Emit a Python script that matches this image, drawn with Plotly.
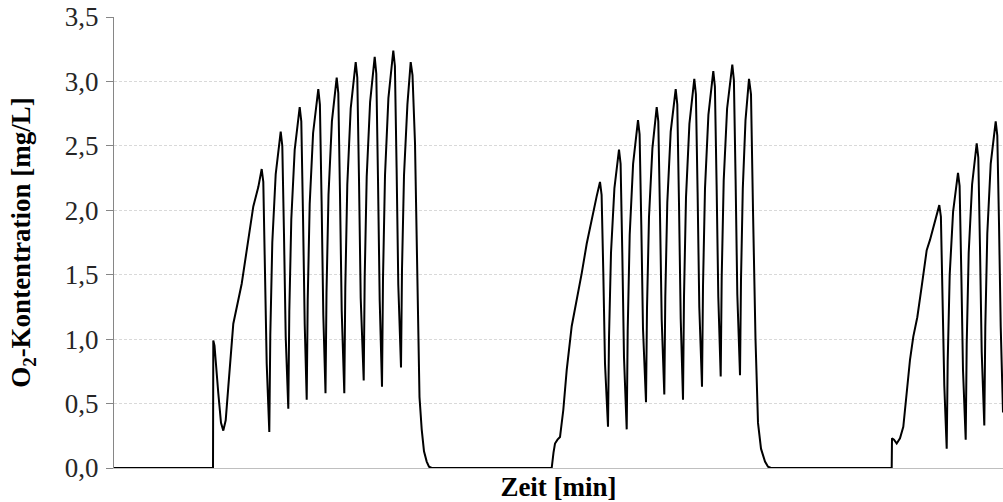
import plotly.graph_objects as go

# --- Data (time in min, O2 concentration in mg/L) ---
zeit_zyklus1 = [0, 99, 99.3, 100.5, 104.3, 107, 109.3, 111.7, 114.3, 117, 119.3, 127.7, 136, 139.3, 144.3, 147.7,
                149.3, 151, 152.7, 155.3,
                156.3, 158.3, 161.7, 166.7, 168.3, 170, 171.7, 174.3,
                175.3, 177.3, 180.7, 185.7, 187.3, 189, 190.7, 192.7,
                193.7, 195.7, 199.1, 204.3, 205.9, 207.6, 209.3, 211.5,
                212.5, 214.5, 217.9, 222.7, 224.3, 226, 227.7, 230.3,
                231.3, 233.3, 236.7, 241.7, 243.3, 245, 246.7, 249.7,
                250.7, 252.7, 256.1, 260.7, 262.3, 264, 265.7, 268,
                269, 271, 274.4, 279.3, 280.9, 282.6, 284.3, 287,
                288, 290, 293.4, 296.7, 298.5, 301, 303, 304.3, 305.5, 307.7, 310, 312.7, 315, 317.7]
o2_zyklus1 = [0, 0, 0.99, 0.95, 0.58, 0.35, 0.29, 0.37, 0.63, 0.91, 1.12, 1.43, 1.87, 2.03, 2.18, 2.32,
              2.22, 1.57, 0.81, 0.28,
              1.03, 1.75, 2.28, 2.61, 2.50, 1.81, 1.02, 0.46,
              1.21, 1.93, 2.47, 2.80, 2.69, 1.96, 1.12, 0.53,
              1.30, 2.05, 2.60, 2.94, 2.82, 2.07, 1.19, 0.58,
              1.36, 2.12, 2.69, 3.03, 2.91, 2.12, 1.22, 0.58,
              1.40, 2.20, 2.79, 3.15, 3.03, 2.24, 1.32, 0.68,
              1.48, 2.26, 2.84, 3.19, 3.06, 2.24, 1.30, 0.63,
              1.47, 2.27, 2.87, 3.24, 3.12, 2.33, 1.42, 0.78,
              1.54, 2.27, 2.82, 3.15, 3.05, 2.52, 1.60, 0.97, 0.55, 0.30, 0.13, 0.05, 0.01, 0]

zeit_zyklus2 = [437.7, 439.5, 441, 443.5, 446, 449.3, 452.7, 457.7, 462.7, 467.7, 472.7, 477.7, 482.7, 486,
                487.6, 489.3, 491, 494,
                495, 497, 500.4, 505, 506.6, 508.3, 510, 512.7,
                513.7, 515.7, 519.1, 524, 525.6, 527.3, 529, 532,
                533, 535, 538.4, 542.7, 544.3, 546, 547.7, 550.3,
                551.3, 553.3, 556.7, 561.7, 563.3, 565, 566.7, 569,
                570, 572, 575.4, 580.3, 581.9, 583.6, 585.3, 588,
                589, 591, 594.4, 599.3, 600.9, 602.6, 604.3, 606.7,
                607.7, 609.7, 613.1, 618.3, 619.9, 621.6, 623.3, 626,
                627, 628.8, 631.5, 635, 637, 639, 641.5, 644, 647, 651, 654, 657]
o2_zyklus2 = [0, 0.12, 0.19, 0.22, 0.24, 0.45, 0.76, 1.10, 1.30, 1.51, 1.74, 1.94, 2.11, 2.22,
              2.12, 1.52, 0.81, 0.32,
              1.01, 1.67, 2.17, 2.47, 2.36, 1.67, 0.86, 0.30,
              1.07, 1.81, 2.36, 2.70, 2.59, 1.89, 1.08, 0.51,
              1.24, 1.95, 2.48, 2.80, 2.69, 1.97, 1.15, 0.57,
              1.33, 2.06, 2.61, 2.94, 2.82, 2.05, 1.16, 0.53,
              1.33, 2.10, 2.67, 3.02, 2.90, 2.14, 1.25, 0.63,
              1.41, 2.17, 2.74, 3.08, 2.96, 2.20, 1.33, 0.71,
              1.48, 2.23, 2.79, 3.13, 3.01, 2.24, 1.35, 0.72,
              1.46, 2.17, 2.70, 3.02, 2.90, 2.00, 1.00, 0.35, 0.15, 0.05, 0.01, 0]

zeit_zyklus3 = [777.7, 778, 780, 782.7, 786, 789.3, 792.7, 796, 799.3, 803.3, 807.7, 812.7, 816, 821, 825.3,
                826.9, 828.6, 830.3, 832.7,
                833.7, 835.7, 839.1, 844, 845.6, 847.3, 849, 851.7,
                852.7, 854.7, 858.1, 862.7, 864.3, 866, 867.7, 870.3,
                871.3, 873.3, 876.7, 881.7, 883.3, 885, 886.7, 889]
o2_zyklus3 = [0, 0.23, 0.22, 0.19, 0.23, 0.32, 0.58, 0.84, 1.02, 1.17, 1.41, 1.69, 1.77, 1.91, 2.04,
              1.95, 1.34, 0.64, 0.15,
              0.83, 1.50, 1.99, 2.29, 2.19, 1.52, 0.76, 0.22,
              0.96, 1.67, 2.20, 2.52, 2.41, 1.71, 0.90, 0.33,
              1.09, 1.82, 2.36, 2.69, 2.58, 1.90, 1.10, 0.43]

y_ticks = [0, 0.5, 1.0, 1.5, 2.0, 2.5, 3.0, 3.5]
y_tick_labels = ["0,0", "0,5", "1,0", "1,5", "2,0", "2,5", "3,0", "3,5"]

zeit = zeit_zyklus1 + zeit_zyklus2 + zeit_zyklus3
o2 = o2_zyklus1 + o2_zyklus2 + o2_zyklus3

FONT = "Liberation Serif, Times New Roman, serif"

fig = go.Figure()
fig.add_trace(go.Scatter(x=zeit, y=o2, mode="lines",
                         line=dict(color="black", width=2), showlegend=False,
                         hoverinfo="skip"))

fig.update_layout(
    width=1003, height=502,
    margin=dict(l=114, r=0, t=17, b=34, autoexpand=False),
    paper_bgcolor="white", plot_bgcolor="white",
    font=dict(family=FONT, size=27, color="#262626"),
    xaxis=dict(
        range=[0, 889], showticklabels=False, ticks="", showgrid=False,
        zeroline=False, showline=True, linecolor="#bfbfbf", linewidth=1,
        automargin=False,
        title=dict(text="Zeit [min]", standoff=10,
                   font=dict(family=FONT, size=27, color="black", weight="bold")),
    ),
    yaxis=dict(
        range=[0, 3.5], tickvals=y_ticks, ticktext=y_tick_labels,
        tickfont=dict(family=FONT, size=27, color="#262626"),
        ticks="outside", ticklen=7, tickcolor="#868686", tickwidth=1,
        showline=True, linecolor="#868686", linewidth=1,
        showgrid=True, gridcolor="#d9d9d9", gridwidth=1, griddash="3px,2px",
        zeroline=False, ticklabelstandoff=2, automargin=False,
        ticklabeloverflow="allow",
        title=dict(text="O<sub>2</sub>-Kontentration [mg/L]", standoff=26,
                   font=dict(family=FONT, size=27, color="black", weight="bold")),
    ),
)

# Remove the default page margin so the figure fills the window exactly.
fig.write_html(
    "out.html",
    config={"displayModeBar": False, "staticPlot": True},
    post_script="document.body.style.margin='0';document.body.style.overflow='hidden';",
)
